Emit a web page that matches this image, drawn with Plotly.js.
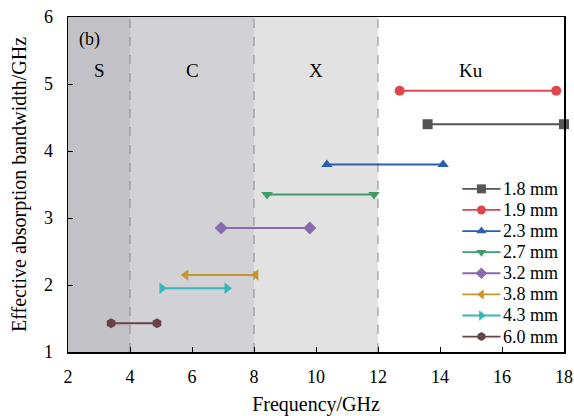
<!DOCTYPE html>
<html><head><meta charset="utf-8">
<script src="https://cdn.plot.ly/plotly-3.0.1.min.js"></script>
<style>body{margin:0;background:#fff}#c{width:574px;height:416px}</style>
</head><body><div id="c"></div>
<script>
const names = ["1.8 mm","1.9 mm","2.3 mm","2.7 mm","3.2 mm","3.8 mm","4.3 mm","6.0 mm"];
const startFreq = [13.6, 12.7, 10.35, 8.42, 6.94, 5.8, 5.03, 3.39];
const endFreq   = [18.0, 17.75, 14.1, 11.87, 9.8, 8.06, 7.13, 4.87];
const bandwidth = [4.4, 4.9, 3.8, 3.35, 2.85, 2.15, 1.95, 1.43];
const colors  = ["#555555","#e0474c","#2d5fb0","#3f9c6a","#8b6bb0","#c8962e","#35b6b8","#6b4148"];
const symbols = ["square","circle","triangle-up","triangle-down","diamond","triangle-left","triangle-right","hexagon"];
const bands = [{name:"S",x0:2,x1:4,fill:"#c2c2c6"},{name:"C",x0:4,x1:8,fill:"#d2d2d6"},{name:"X",x0:8,x1:12,fill:"#e2e2e2"},{name:"Ku",x0:12,x1:18,fill:"#ffffff"}];
const bandLabelY = 5.2;

// data traces
const traces = names.map((n,i)=>({
  x:[startFreq[i], endFreq[i]], y:[bandwidth[i], bandwidth[i]],
  type:"scatter", mode:"lines+markers", name:n, showlegend:false,
  line:{color:colors[i], width:2},
  marker:{symbol:symbols[i], size:10, color:colors[i]},
  cliponaxis:false
}));

// custom compact legend drawn on an overlay axis (0..1 fractions of plot area)
const legX0 = 0.795, legX1 = 0.872, legTextX = 0.874, legTop = 0.487, legStep = 0.063;
names.forEach((n,i)=>{
  const yy = legTop - i*legStep;
  traces.push({x:[legX0,legX1], y:[yy,yy], xaxis:"x2", yaxis:"y2", type:"scatter", mode:"lines", showlegend:false,
    line:{color:colors[i], width:1.8}, hoverinfo:"skip"});
  traces.push({x:[(legX0+legX1)/2], y:[yy], xaxis:"x2", yaxis:"y2", type:"scatter", mode:"markers", showlegend:false,
    marker:{symbol:symbols[i], size:9, color:colors[i]}, hoverinfo:"skip"});
});

const shapes = [];
bands.forEach(b=>{
  shapes.push({type:"rect", xref:"x", yref:"paper", x0:b.x0, x1:b.x1, y0:0, y1:1, fillcolor:b.fill, line:{width:0}, layer:"below"});
});
[4,8,12].forEach(v=>{
  shapes.push({type:"line", xref:"x", yref:"paper", x0:v, x1:v, y0:0, y1:1, line:{color:"#8a8a8a", width:1, dash:"dash"}, layer:"below"});
});
const annotations = bands.map(b=>({x:(b.x0+b.x1)/2, y:bandLabelY, xref:"x", yref:"y", text:b.name, showarrow:false, font:{size:19, color:"#000"}}));
annotations.push({x:2.3, y:5.66, xref:"x", yref:"y", text:"(b)", showarrow:false, xanchor:"left", font:{size:18,color:"#000"}});
names.forEach((n,i)=>{
  annotations.push({x:legTextX, y:legTop - i*legStep, xref:"x2", yref:"y2", text:n, showarrow:false, xanchor:"left", yanchor:"middle",
    borderpad:0, font:{size:18,color:"#000"}});
});

const layout = {
  width:574, height:416,
  margin:{l:68, r:10, t:17, b:64},
  paper_bgcolor:"#fff", plot_bgcolor:"#fff",
  font:{family:"Liberation Serif, Times New Roman, serif", size:18, color:"#000"},
  showlegend:false,
  xaxis:{range:[2,18], dtick:2, tick0:2, ticks:"inside", ticklen:5, tickcolor:"#000", showline:true, linecolor:"#000", linewidth:1.5, mirror:true, showgrid:false, zeroline:false,
    tickfont:{size:18}, ticklabelstandoff:8,
    title:{text:"Frequency/GHz", font:{size:20}, standoff:12}},
  yaxis:{range:[1,6], dtick:1, ticks:"inside", ticklen:5, tickcolor:"#000", showline:true, linecolor:"#000", linewidth:1.5, mirror:true, showgrid:false, zeroline:false,
    tickfont:{size:18}, ticklabelstandoff:10,
    title:{text:"Effective absorption bandwidth/GHz", font:{size:20}, standoff:12}},
  xaxis2:{overlaying:"x", range:[0,1], visible:false, fixedrange:true},
  yaxis2:{overlaying:"y", range:[0,1], visible:false, fixedrange:true},
  shapes:shapes, annotations:annotations
};
Plotly.newPlot("c", traces, layout, {staticPlot:true});
</script></body></html>
